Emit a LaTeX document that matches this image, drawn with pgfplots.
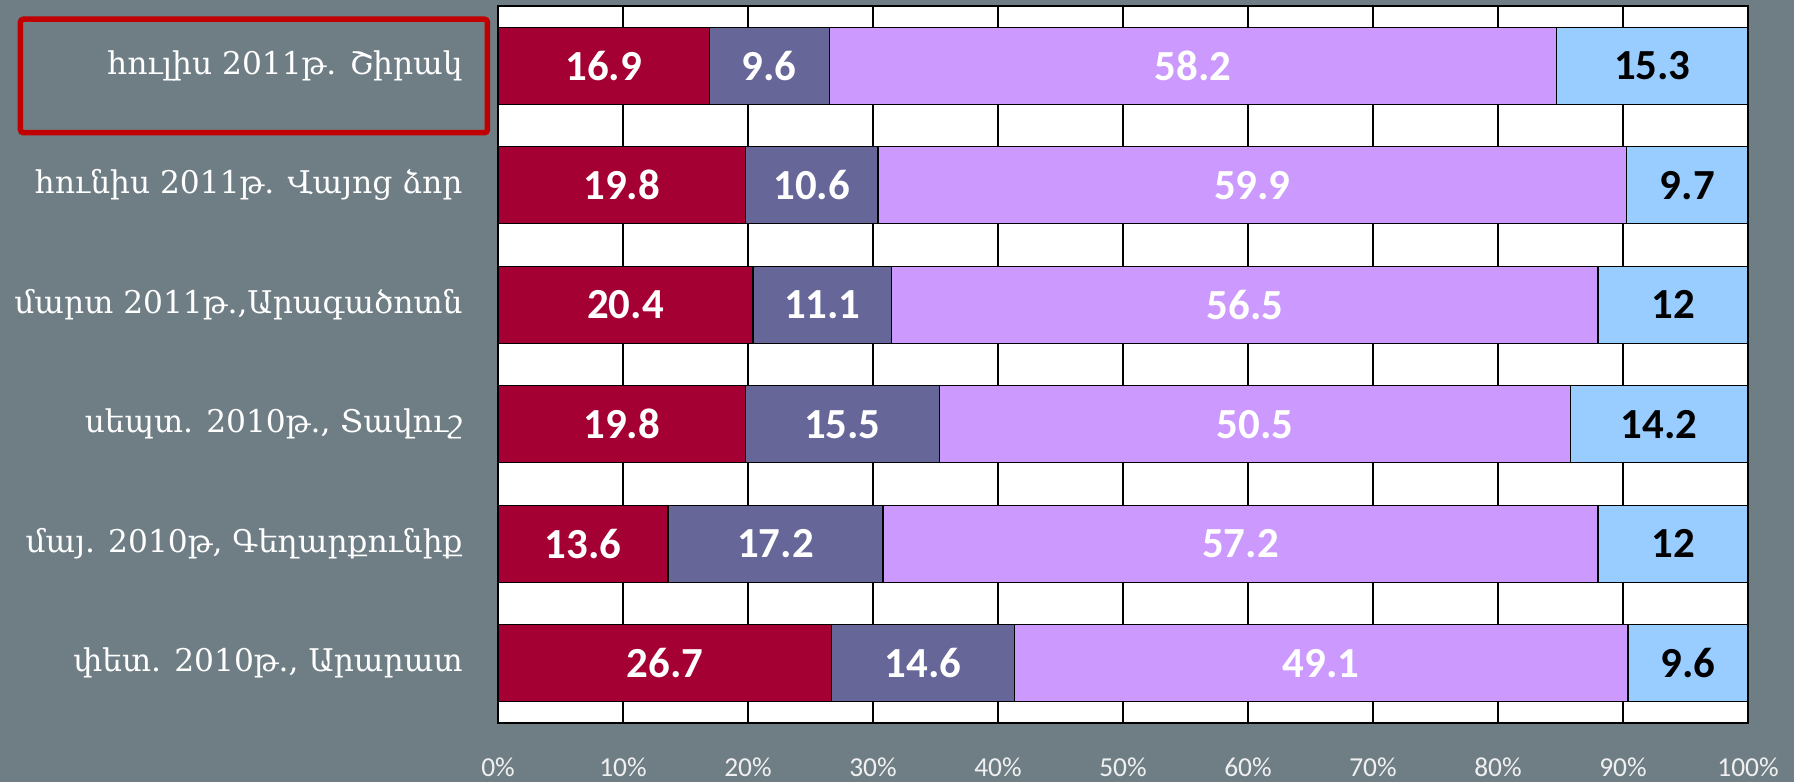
\documentclass[border=0pt]{standalone}
\usepackage{pgfplots}
\pgfplotsset{compat=1.18}
\usepackage{pgfplotstable}
\usepackage{fontspec}
\setmainfont{Carlito}
\newfontfamily\armfont{DejaVu Serif}
\definecolor{bgc}{HTML}{6F7E85}
\definecolor{s1}{HTML}{A50034}
\definecolor{s2}{HTML}{666699}
\definecolor{s3}{HTML}{CC99FF}
\definecolor{s4}{HTML}{99CCFF}
\definecolor{framered}{HTML}{C00000}

\pgfplotstableread{
y a b c d
0 26.7 14.6 49.1 9.6
1 13.6 17.2 57.2 12
2 19.8 15.5 50.5 14.2
3 20.4 11.1 56.5 12
4 19.8 10.6 59.9 9.7
5 16.9 9.6 58.2 15.3
}\datatable

\begin{document}
\begin{tikzpicture}
\useasboundingbox (0,0) rectangle (179.4mm,78.2mm);
\fill[bgc] (0,0) rectangle (179.4mm,78.2mm);
\begin{axis}[
  at={(49.8mm,5.9mm)}, anchor=south west,
  scale only axis, width=125mm, height=71.7mm,
  xbar stacked, bar width=7.7mm,
  xmin=0, xmax=100, ymin=-0.5, ymax=5.5,
  xtick={0,10,...,100},
  xticklabels={0\%,10\%,20\%,30\%,40\%,50\%,60\%,70\%,80\%,90\%,100\%},
  ytick={0,1,2,3,4,5},
  yticklabels={{փետ. 2010թ., Արարատ},{մայ. 2010թ, Գեղարքունիք},{սեպտ. 2010թ., Տավուշ},{մարտ 2011թ.,Արագածոտն},{հունիս 2011թ. Վայոց ձոր},{հուլիս 2011թ. Շիրակ}},
  major tick length=0,
  xmajorgrids, grid style={black, line width=0.5pt},
  axis line style={black, line width=0.5pt},
  axis background/.style={fill=white},
  clip=false,
  xticklabel style={font=\fontsize{7.8}{9}\selectfont, text=white!88!gray, yshift=-2.2mm},
  yticklabel style={font=\armfont\fontsize{8.9}{10}\selectfont, text=white, xshift=-2.3mm},
  point meta=explicit symbolic,
  nodes near coords={\pgfplotspointmeta},
  every node near coord/.append style={anchor=center, font=\fontsize{12.2}{14}\selectfont\bfseries},
]
\addplot[fill=s1, draw=black, line width=0.3pt, every node near coord/.append style={text=white}] table[x=a, y=y, meta=a] {\datatable};
\addplot[fill=s2, draw=black, line width=0.3pt, every node near coord/.append style={text=white}] table[x=b, y=y, meta=b] {\datatable};
\addplot[fill=s3, draw=black, line width=0.3pt, every node near coord/.append style={text=white}] table[x=c, y=y, meta=c] {\datatable};
\addplot[fill=s4, draw=black, line width=0.3pt, every node near coord/.append style={text=black}] table[x=d, y=y, meta=d] {\datatable};
\draw[framered, line width=0.55mm, rounded corners=0.3mm] (axis cs:-38.2,5.39) rectangle (axis cs:-0.85,4.44);
\end{axis}
\end{tikzpicture}
\end{document}
